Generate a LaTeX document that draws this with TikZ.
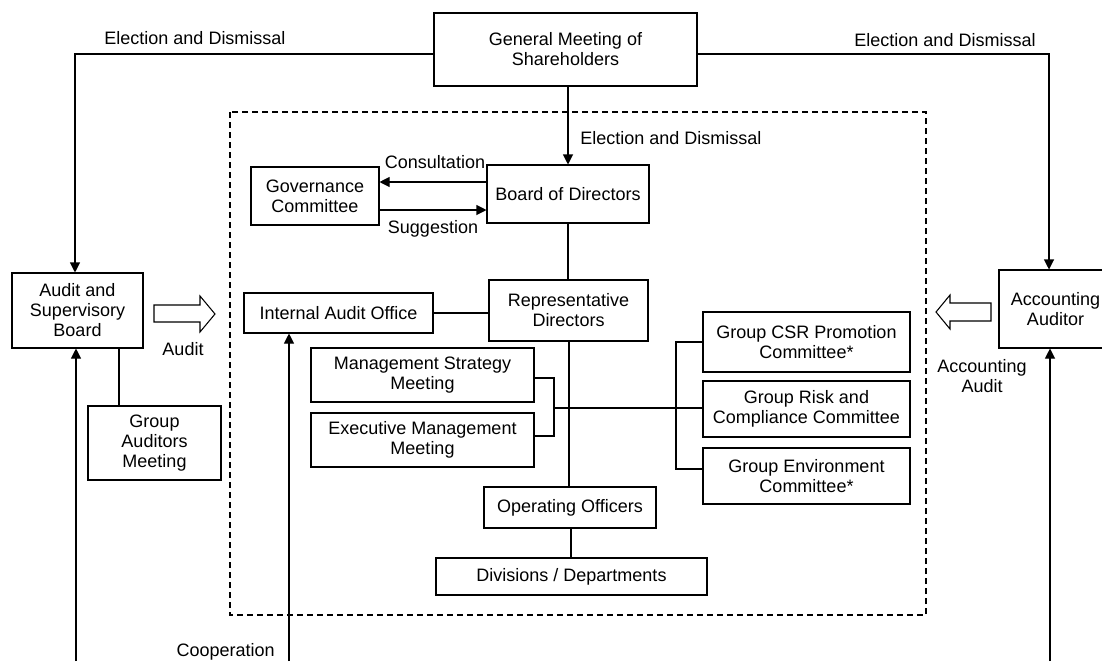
\documentclass[tikz,border=0pt]{standalone}
\usepackage{fontspec}
\setmainfont{Liberation Sans}
\usetikzlibrary{arrows.meta}
\tikzset{
  box/.style={draw, line width=0.8pt, fill=white, align=center, inner sep=1pt, font=\fontsize{13.5}{15}\selectfont},
  lbl/.style={inner sep=0pt, align=center, font=\fontsize{13.5}{15}\selectfont},
  conn/.style={line width=0.8pt},
  arr/.style={line width=0.8pt, -{Triangle[length=7.5pt,width=7.5pt]}},
  hollow/.style={draw, line width=0.8pt, fill=white},
  dashbox/.style={draw, line width=0.8pt, dash pattern=on 4.5pt off 3pt}
}
\newcommand\bx[6]{\node[box, minimum width={(#4-#2)*0.75pt}, minimum height={(#5-#3)*0.75pt}] (#1) at ({(#2+#4)/2},{(#3+#5)/2}) {#6};}
\begin{document}
\begin{tikzpicture}[x=0.75pt,y=-0.75pt]
\path[use as bounding box] (0,0) rectangle (1102,661);
\clip (0,0) rectangle (1102,661);

% dashed frame
\draw[dashbox] (230,112) rectangle (926,615);

% boxes
\bx{gms}{434}{13}{697}{86}{General Meeting of\\Shareholders}
\bx{bod}{487}{165}{649}{223}{Board of Directors}
\bx{gov}{251}{167}{379}{225}{Governance\\Committee}
\bx{rep}{489}{280}{648}{341}{Representative\\Directors}
\bx{iao}{244}{293}{433}{333}{Internal Audit Office}
\bx{msm}{311}{348}{534}{402}{Management Strategy\\Meeting}
\bx{emm}{311}{413}{534}{467}{Executive Management\\Meeting}
\bx{csr}{703}{312}{910}{372}{Group CSR Promotion\\Committee*}
\bx{risk}{703}{381}{910}{437}{Group Risk and\\Compliance Committee}
\bx{env}{703}{448}{910}{504}{Group Environment\\Committee*}
\bx{oo}{484}{487}{656}{528}{Operating Officers}
\bx{div}{436}{558}{707}{595}{Divisions / Departments}
\bx{asb}{12}{273}{143}{348}{Audit and\\Supervisory\\Board}
\bx{gam}{88}{406}{221}{480}{Group\\Auditors\\Meeting}
\bx{aa}{999}{270}{1112}{348}{Accounting\\Auditor}

% coordinates
\coordinate (tl) at (75,54);
\coordinate (tr) at (1049,54);
\coordinate (bl) at (76,661);
\coordinate (bm) at (289,661);
\coordinate (br) at (1050,661);
\coordinate (jl) at (554,408);
\coordinate (jr) at (676,408);

% election lines
\draw[arr] (gms.west |- tl) -- (tl) -- (asb.north -| tl);
\draw[arr] (gms.east |- tr) -- (tr) -- (aa.north -| tr);
\draw[arr] (gms.south -| bod.north) -- (bod.north);

% governance
\draw[arr] (bod.west |- 0,182) -- (gov.east |- 0,182);
\draw[arr] (gov.east |- 0,210) -- (bod.west |- 0,210);

% hierarchy
\draw[conn] (bod.south) -- (rep.north -| bod.south);
\draw[conn] (iao.east |- 0,313) -- (rep.west |- 0,313);
\draw[conn] (rep.south -| 569,0) -- (oo.north -| 569,0);
\draw[conn] (oo.south -| 571,0) -- (div.north -| 571,0);

% left bracket
\draw[conn] (msm.east |- 0,378) -- (554,378) -- (554,436) -- (emm.east |- 0,436);
% cross line
\draw[conn] (jl) -- (jr);
% right bracket
\draw[conn] (csr.west |- 0,342) -- (676,342) -- (676,469) -- (env.west |- 0,469);
\draw[conn] (jr) -- (risk.west |- jr);

% audit board to group auditors
\draw[conn] (asb.south -| 119,0) -- (gam.north -| 119,0);

% arrows from bottom
\draw[arr] (bl) -- (asb.south -| bl);
\draw[arr] (bm) -- (iao.south -| bm);
\draw[arr] (br) -- (aa.south -| br);

% hollow arrows
\draw[hollow] (154,305) -- (200,305) -- (200,296) -- (215,314) -- (200,332) -- (200,322) -- (154,322) -- cycle;
\draw[hollow] (991,303) -- (950,303) -- (950,295) -- (936,312) -- (950,329) -- (950,321) -- (991,321) -- cycle;

% labels
\node[lbl] (l1) at (195,38) {Election and Dismissal};
\node[lbl] (l2) at (945,40) {Election and Dismissal};
\node[lbl, anchor=west] (l3) at (580,138) {Election and Dismissal};
\node[lbl] (l4) at (435,162) {Consultation};
\node[lbl] (l5) at (433,229) {Suggestion};
\node[lbl] (l6) at (183,349) {Audit};
\node[lbl] (l7) at (982,376) {Accounting\\Audit};
\node[lbl, anchor=east] (l8) at (275,652) {Cooperation};
\end{tikzpicture}
\end{document}
